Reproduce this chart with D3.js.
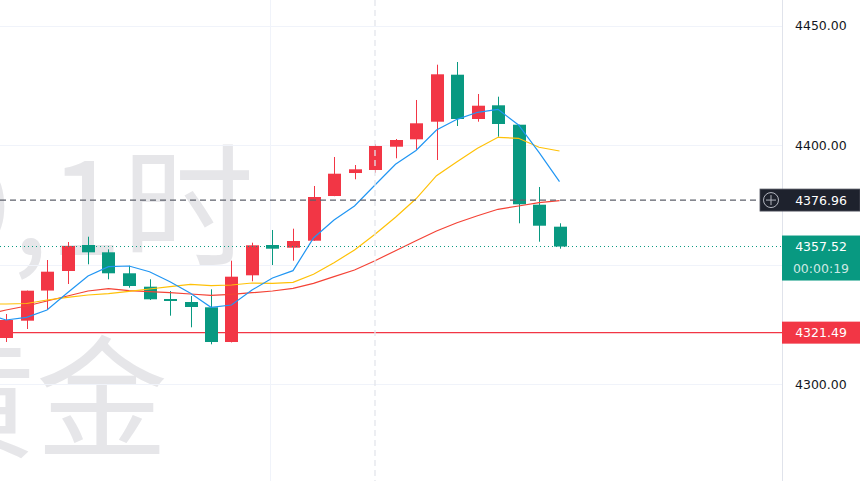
<!DOCTYPE html>
<html>
<head>
<meta charset="utf-8">
<script src="https://cdn.jsdelivr.net/npm/d3@7"></script>
<style>
  html, body { margin: 0; padding: 0; background: #fff; }
  svg { display: block; }
</style>
</head>
<body>
<svg id="chart" width="860" height="481"></svg>
<script>
// candle data (index 0 = first visible bar)
const opens  = [4319.25, 4326.49, 4339.10, 4347.28, 4358.16, 4355.10, 4346.32, 4340.71, 4335.56, 4334.31,
                4332.09, 4317.57, 4345.48, 4358.16, 4357.03, 4359.96, 4378.66, 4388.28, 4389.54, 4399.29,
                4402.38, 4409.75, 4429.41, 4410.88, 4416.61, 4408.49, 4375.02, 4365.82];
const highs  = [4329.29, 4339.10, 4351.88, 4359.41, 4361.63, 4356.36, 4349.50, 4343.81, 4338.91, 4336.82,
                4339.62, 4351.59, 4359.12, 4364.44, 4364.98, 4382.85, 4394.98, 4391.63, 4400.29, 4402.51,
                4418.83, 4433.60, 4434.73, 4421.34, 4420.21, 4408.50, 4382.43, 4367.24];
const lows   = [4317.57, 4323.01, 4331.26, 4341.84, 4350.08, 4343.81, 4340.29, 4335.15, 4328.58, 4323.72,
                4316.61, 4317.40, 4342.97, 4349.79, 4351.59, 4359.90, 4378.60, 4385.65, 4388.41, 4394.44,
                4398.20, 4393.72, 4407.95, 4409.75, 4403.47, 4367.24, 4359.54, 4356.61];
const closes = [4326.78, 4339.04, 4346.99, 4357.74, 4355.10, 4346.32, 4341.00, 4335.44, 4334.73, 4332.22,
                4317.57, 4344.90, 4358.03, 4356.61, 4359.83, 4378.24, 4387.99, 4389.83, 4399.58, 4402.09,
                4409.08, 4429.58, 4410.88, 4416.44, 4408.79, 4375.19, 4366.23, 4357.52];

// moving averages, starting one bar before the first visible candle
const maFast = [4329.29, 4326.78, 4327.91, 4330.96, 4338.20, 4345.19, 4349.08, 4349.37, 4346.99, 4342.80,
                4337.95, 4332.09, 4333.05, 4339.33, 4344.35, 4347.41, 4361.09, 4368.62, 4374.48, 4383.26,
                4391.92, 4397.70, 4406.28, 4410.75, 4413.68, 4414.94, 4408.37, 4396.95, 4384.64];
const maMid  = [4333.47, 4333.47, 4333.68, 4335.15, 4336.28, 4337.24, 4337.78, 4338.79, 4339.75, 4340.71,
                4341.72, 4341.13, 4341.42, 4342.26, 4342.13, 4342.55, 4345.90, 4350.75, 4356.07, 4362.64,
                4369.75, 4377.49, 4387.15, 4393.01, 4398.62, 4403.22, 4402.80, 4399.04, 4397.49];
const maSlow = [4328.87, 4330.96, 4332.64, 4334.73, 4336.82, 4338.91, 4339.87, 4339.04, 4338.62, 4338.20,
                4337.66, 4337.11, 4337.53, 4338.20, 4338.91, 4340.04, 4342.13, 4344.90, 4347.70, 4351.59,
                4355.77, 4359.92, 4364.02, 4367.49, 4370.42, 4373.10, 4374.48, 4375.86, 4376.69];

const gridTicks = [4300, 4350, 4400, 4450];
const labelTicks = [4300, 4400, 4450]; // 4350 sits under the last-price tag
const crossPrice = 4376.96;
const lastPrice = 4357.52;
const lowLine = 4321.49;
const countdown = "00:00:19";
const crossBar = 18;
const watermark1 = "XAUUSD,1时";
const watermark2 = "现货黄金";

const W = 860, H = 481, paneW = 782;
const UP = "#f23645", DOWN = "#089981";

const svg = d3.select("#chart");
const x = d3.scaleLinear().domain([0, 27]).range([6, 559.5]);
const y = d3.scaleLinear().domain([4300, 4450]).range([384, 25.5]);

// watermark
const wm = svg.append("g")
  .attr("font-family", "'Noto Sans CJK SC', 'Noto Sans', sans-serif")
  .attr("fill", "#e6e6e9")
  .attr("font-size", 132)
  .attr("text-anchor", "end");
wm.append("text").attr("x", 254).attr("y", 255).text(watermark1);
wm.append("text").attr("x", 168).attr("y", 447).text(watermark2);

// grid
svg.append("g").selectAll("line").data(gridTicks).join("line")
  .attr("x1", 0).attr("x2", paneW)
  .attr("y1", d => Math.round(y(d)) + 0.5).attr("y2", d => Math.round(y(d)) + 0.5)
  .attr("stroke", "#f0f3fa");
svg.append("line")
  .attr("x1", 270.5).attr("x2", 270.5).attr("y1", 0).attr("y2", H)
  .attr("stroke", "#f0f3fa");

// low marker line
svg.append("line")
  .attr("x1", 0).attr("x2", paneW)
  .attr("y1", y(lowLine)).attr("y2", y(lowLine))
  .attr("stroke", UP).attr("stroke-width", 1.3);

// candles
const idx = d3.range(opens.length);
const bars = svg.append("g").selectAll("g").data(idx).join("g");
bars.append("line")
  .attr("x1", i => Math.round(x(i)) + 0.5).attr("x2", i => Math.round(x(i)) + 0.5)
  .attr("y1", i => y(highs[i])).attr("y2", i => y(lows[i]))
  .attr("stroke", i => closes[i] >= opens[i] ? UP : DOWN);
bars.append("rect")
  .attr("x", i => Math.round(x(i)) - 6)
  .attr("width", 13)
  .attr("y", i => y(Math.max(opens[i], closes[i])))
  .attr("height", i => Math.max(1.5, Math.abs(y(opens[i]) - y(closes[i]))))
  .attr("fill", i => closes[i] >= opens[i] ? UP : DOWN);

// moving averages
const maIdx = d3.range(-1, 28);
const line = d3.line().x((d, k) => x(maIdx[k])).y(d => y(d));
[[maSlow, "#f44336"], [maMid, "#ffc107"], [maFast, "#2196f3"]].forEach(([arr, c]) => {
  svg.append("path").datum(arr).attr("d", line)
    .attr("fill", "none").attr("stroke", c).attr("stroke-width", 1.2);
});

// last price dotted line
svg.append("line")
  .attr("x1", 0).attr("x2", paneW)
  .attr("y1", y(lastPrice)).attr("y2", y(lastPrice))
  .attr("stroke", DOWN).attr("stroke-width", 1).attr("stroke-dasharray", "1,3");

// crosshair
svg.append("line")
  .attr("x1", x(crossBar)).attr("x2", x(crossBar)).attr("y1", 0).attr("y2", H)
  .attr("stroke", "#e3e5ec").attr("stroke-width", 1.3).attr("stroke-dasharray", "6,4");
svg.append("line")
  .attr("x1", 0).attr("x2", 760).attr("y1", y(crossPrice)).attr("y2", y(crossPrice))
  .attr("stroke", "#5d606b").attr("stroke-width", 1.3).attr("stroke-dasharray", "6,4");

// right price axis
svg.append("line")
  .attr("x1", paneW + 0.5).attr("x2", paneW + 0.5).attr("y1", 0).attr("y2", H)
  .attr("stroke", "#e0e3eb");
const axis = svg.append("g")
  .attr("transform", `translate(${paneW},0)`)
  .call(d3.axisRight(y).tickValues(labelTicks).tickSize(0).tickPadding(13).tickFormat(d3.format(".2f")));
axis.select(".domain").remove();
axis.selectAll("text")
  .attr("font-family", "'DejaVu Sans', sans-serif").attr("font-size", 12.5).attr("fill", "#131722");

// price labels
const labelFont = "'DejaVu Sans', sans-serif";
const cy = y(crossPrice);
svg.append("rect").attr("x", 760).attr("y", cy - 11).attr("width", 100).attr("height", 22)
  .attr("fill", "#1e222d").attr("stroke", "#50535e").attr("stroke-width", 0.8);
svg.append("circle").attr("cx", 771).attr("cy", cy).attr("r", 7.5)
  .attr("fill", "none").attr("stroke", "#b2b5be").attr("stroke-width", 1);
svg.append("path")
  .attr("d", `M766,${cy}H776M771,${cy - 5}V${cy + 5}`)
  .attr("stroke", "#b2b5be").attr("stroke-width", 1);
svg.append("text").attr("x", 821).attr("y", cy).attr("dy", "0.36em")
  .attr("text-anchor", "middle").attr("fill", "#fff")
  .attr("font-family", labelFont).attr("font-size", 12.5).text(crossPrice.toFixed(2));

const ly = y(lastPrice);
svg.append("rect").attr("x", paneW).attr("y", ly - 11).attr("width", W - paneW).attr("height", 45)
  .attr("fill", DOWN);
svg.append("text").attr("x", 821).attr("y", ly).attr("dy", "0.36em")
  .attr("text-anchor", "middle").attr("fill", "#fff")
  .attr("font-family", labelFont).attr("font-size", 12.5).text(lastPrice.toFixed(2));
svg.append("text").attr("x", 821).attr("y", ly + 22).attr("dy", "0.36em")
  .attr("text-anchor", "middle").attr("fill", "#fff").attr("fill-opacity", 0.8)
  .attr("font-family", labelFont).attr("font-size", 12.5).text(countdown);

const ry = y(lowLine);
svg.append("rect").attr("x", paneW).attr("y", ry - 11).attr("width", W - paneW).attr("height", 22)
  .attr("fill", UP);
svg.append("text").attr("x", 821).attr("y", ry).attr("dy", "0.36em")
  .attr("text-anchor", "middle").attr("fill", "#fff")
  .attr("font-family", labelFont).attr("font-size", 12.5).text(lowLine.toFixed(2));
</script>
</body>
</html>
